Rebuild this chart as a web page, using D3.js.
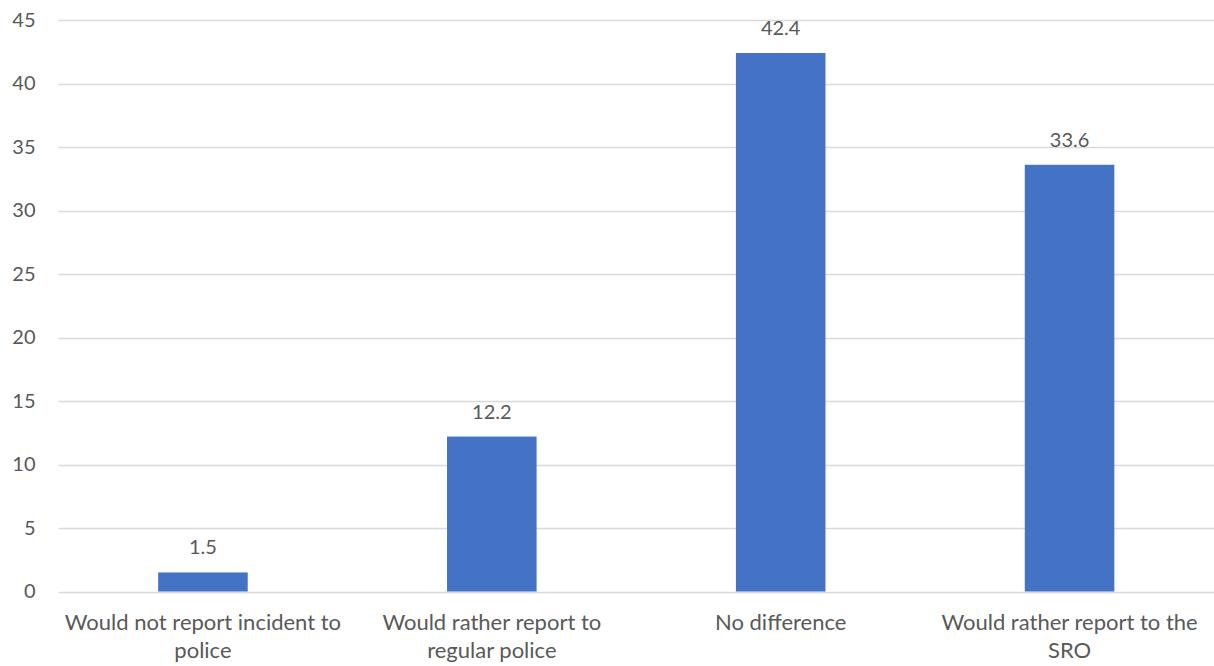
<!DOCTYPE html>
<html>
<head>
<meta charset="utf-8">
<script src="https://cdn.jsdelivr.net/npm/d3@7"></script>
<style>
  body { margin: 0; background: #fff; }
  text { font-family: Lato, "Open Sans", sans-serif; fill: #595959; }
</style>
</head>
<body>
<div id="viz"></div>
<script>
var categories = [
  "Would not report incident to\npolice",
  "Would rather report to\nregular police",
  "No difference",
  "Would rather report to the\nSRO"
];
var values = [1.5, 12.2, 42.4, 33.6];
var yTicks = [0, 5, 10, 15, 20, 25, 30, 35, 40, 45];

var w = 1214, h = 666;
var margin = { left: 58.5, right: 0, top: 20, bottom: 74.5 };

var svg = d3.select("#viz").append("svg")
  .attr("width", w)
  .attr("height", h);

var x = d3.scaleBand()
  .domain(categories)
  .range([margin.left, w - margin.right])
  .paddingInner(0)
  .paddingOuter(0);

var y = d3.scaleLinear()
  .domain([0, 45])
  .range([h - margin.bottom, margin.top]);

var barW = x.bandwidth() * 0.31;

// gridlines
svg.append("g")
  .selectAll("line")
  .data(yTicks)
  .enter()
  .append("line")
  .attr("x1", margin.left)
  .attr("x2", w - margin.right)
  .attr("y1", function(d) { return Math.round(y(d)) + 0.5; })
  .attr("y2", function(d) { return Math.round(y(d)) + 0.5; })
  .attr("stroke", "#d9d9d9")
  .attr("stroke-width", 1.3);

// y axis labels
var yAxis = d3.axisLeft(y).tickValues(yTicks).tickSize(0).tickPadding(0);
var gy = svg.append("g")
  .attr("transform", "translate(" + 35.5 + ",0)")
  .call(yAxis);
gy.select(".domain").remove();
gy.selectAll("text")
  .attr("font-size", 20)
  .attr("fill", "#595959")
  .style("font-family", 'Lato, "Open Sans", sans-serif');

// bars
svg.selectAll("rect.bar")
  .data(values)
  .enter()
  .append("rect")
  .attr("class", "bar")
  .attr("x", function(d, i) { return x(categories[i]) + x.bandwidth() / 2 - barW / 2; })
  .attr("y", function(d) { return y(d); })
  .attr("width", barW)
  .attr("height", function(d) { return y(0) - y(d); })
  .attr("fill", "#4472c4");

// value labels
svg.selectAll("text.val")
  .data(values)
  .enter()
  .append("text")
  .attr("class", "val")
  .attr("x", function(d, i) { return x(categories[i]) + x.bandwidth() / 2; })
  .attr("y", function(d) { return y(d) - 18; })
  .attr("text-anchor", "middle")
  .attr("font-size", 20)
  .text(function(d) { return d.toFixed(1); });

// category labels
var cat = svg.selectAll("text.cat")
  .data(categories)
  .enter()
  .append("text")
  .attr("class", "cat")
  .attr("text-anchor", "middle")
  .attr("font-size", 22)
  .attr("transform", function(d) {
    return "translate(" + (x(d) + x.bandwidth() / 2) + "," + 630 + ")";
  });

cat.selectAll("tspan")
  .data(function(d) { return d.split("\n"); })
  .enter()
  .append("tspan")
  .attr("x", 0)
  .attr("dy", function(d, i) { return i ? 28 : 0; })
  .text(function(d) { return d; });
</script>
</body>
</html>
